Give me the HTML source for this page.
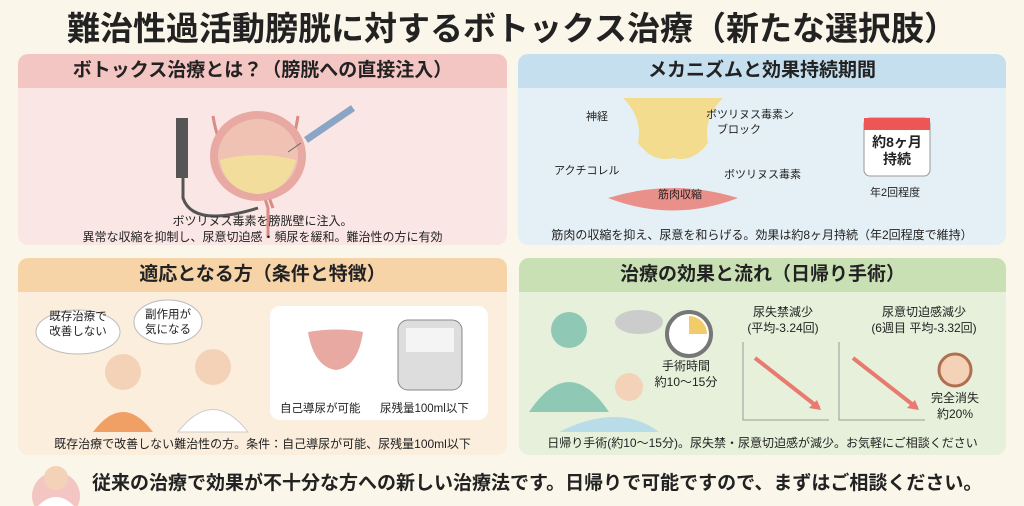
<!DOCTYPE html>
<html><head><meta charset="utf-8"><style>
*{margin:0;padding:0;box-sizing:border-box}
body{width:1024px;height:506px;background:#fbf6ea;font-family:"Liberation Sans","Noto Sans CJK JP",sans-serif;color:#222;position:relative;overflow:hidden}
.t{position:absolute;white-space:nowrap}
.p{position:absolute;border-radius:10px;overflow:hidden}
.h{height:34px;font-size:19px;font-weight:bold;text-align:center;line-height:34px}
.c{text-align:center}
</style></head><body>
<div class="t" style="left:0;width:1024px;top:2px;text-align:center;font-size:33px;font-weight:bold">難治性過活動膀胱に対するボトックス治療（新たな選択肢）</div>

<div class="p" style="left:18px;top:54px;width:489px;height:191px;background:#fae6e4">
<div class="h" style="background:#f4c6c3">ボトックス治療とは？（膀胱への直接注入）</div>
<svg width="489" height="157" style="position:absolute;top:34px;left:0">
<path d="M195 28 Q200 60 215 70 Q240 85 250 120 L250 150 M280 28 Q275 60 265 70 Q240 85 255 120" stroke="#d98c85" stroke-width="3" fill="none"/>
<ellipse cx="240" cy="68" rx="48" ry="45" fill="#e8a9a2"/>
<ellipse cx="240" cy="68" rx="40" ry="37" fill="#f0c2b4"/>
<path d="M202 72 Q240 62 278 72 Q270 104 240 106 Q208 104 202 72Z" fill="#f2dd9c"/>
<path d="M288 52 L335 20" stroke="#8aa6c4" stroke-width="7"/><path d="M283 55 L270 64" stroke="#666"/>
<path d="M165 35 L165 110 Q175 140 240 120" stroke="#555" stroke-width="3" fill="none"/>
<rect x="158" y="30" width="12" height="60" fill="#555"/>
</svg>
<div class="t c" style="left:0;width:489px;top:158px;font-size:12px">ボツリヌス毒素を膀胱壁に注入。</div>
<div class="t c" style="left:0;width:489px;top:174px;font-size:12px">異常な収縮を抑制し、尿意切迫感・頻尿を緩和。難治性の方に有効</div>
</div>

<div class="p" style="left:518px;top:54px;width:488px;height:191px;background:#e5f0f6">
<div class="h" style="background:#c5dfee">メカニズムと効果持続期間</div>
<svg width="488" height="157" style="position:absolute;top:34px;left:0">
<path d="M105 10 L205 10 Q185 30 190 55 Q175 75 155 70 Q135 75 120 55 Q125 30 105 10Z" fill="#f3dc8e"/>
<path d="M90 110 Q155 90 220 110 Q155 135 90 110Z" fill="#e9908a"/>
<rect x="346" y="30" width="66" height="58" rx="6" fill="#fff" stroke="#999"/>
<rect x="346" y="30" width="66" height="12" fill="#e55"/>
</svg>
<div class="t" style="left:68px;top:54px;font-size:11px">神経</div>
<div class="t" style="left:188px;top:54px;font-size:11px;line-height:15px">ボツリヌス毒素ン<br>　ブロック</div>
<div class="t" style="left:36px;top:108px;font-size:11px">アクチコレル</div>
<div class="t" style="left:206px;top:112px;font-size:11px">ボツリヌス毒素</div>
<div class="t" style="left:140px;top:132px;font-size:11px">筋肉収縮</div>
<div class="t c" style="left:346px;top:80px;width:66px;font-size:14px;font-weight:bold;line-height:17px">約8ヶ月<br>持続</div>
<div class="t" style="left:352px;top:130px;font-size:11px">年2回程度</div>
<div class="t c" style="left:0;width:488px;top:172px;font-size:12px">筋肉の収縮を抑え、尿意を和らげる。効果は約8ヶ月持続（年2回程度で維持）</div>
</div>

<div class="p" style="left:18px;top:258px;width:489px;height:197px;background:#fbeedd">
<div class="h" style="background:#f7d4a8">適応となる方（条件と特徴）</div>
<svg width="489" height="163" style="position:absolute;top:34px;left:0">
<circle cx="105" cy="80" r="18" fill="#f3d2b8"/><path d="M75 140 Q105 100 135 140Z" fill="#f0a064"/>
<circle cx="195" cy="75" r="18" fill="#f3d2b8"/><path d="M160 140 Q195 95 230 140Z" fill="#fff" stroke="#ccc"/>
<ellipse cx="60" cy="40" rx="42" ry="22" fill="#fff" stroke="#bbb"/>
<ellipse cx="150" cy="30" rx="34" ry="22" fill="#fff" stroke="#bbb"/>
<rect x="252" y="14" width="218" height="114" rx="10" fill="#fff"/>
<path d="M290 40 Q320 35 345 40 Q340 75 318 78 Q296 75 290 40Z" fill="#e8a9a2"/>
<rect x="380" y="28" width="64" height="70" rx="10" fill="#ddd" stroke="#888"/>
<rect x="388" y="36" width="48" height="24" fill="#f4f4f4"/>
</svg>
<div class="t c" style="left:18px;top:52px;width:84px;font-size:11.5px;line-height:15px">既存治療で<br>改善しない</div>
<div class="t c" style="left:118px;top:50px;width:64px;font-size:11.5px;line-height:15px">副作用が<br>気になる</div>
<div class="t" style="left:262px;top:142px;font-size:11.5px">自己導尿が可能</div>
<div class="t" style="left:362px;top:142px;font-size:11.5px">尿残量100ml以下</div>
<div class="t c" style="left:0;width:489px;top:177px;font-size:12px">既存治療で改善しない難治性の方。条件：自己導尿が可能、尿残量100ml以下</div>
</div>

<div class="p" style="left:519px;top:258px;width:487px;height:197px;background:#e6f0da">
<div class="h" style="background:#c9e0b4">治療の効果と流れ（日帰り手術）</div>
<svg width="487" height="163" style="position:absolute;top:34px;left:0">
<circle cx="50" cy="38" r="18" fill="#8fc9b6"/><path d="M10 120 Q50 60 90 120Z" fill="#8fc9b6"/>
<path d="M40 140 Q100 110 140 140Z" fill="#b8dce8"/><circle cx="110" cy="95" r="14" fill="#f3d2b8"/>
<ellipse cx="120" cy="30" rx="24" ry="12" fill="#ccc"/>
<circle cx="170" cy="42" r="22" fill="#fff" stroke="#777" stroke-width="4"/>
<path d="M170 42 L170 24 A18 18 0 0 1 188 42Z" fill="#f2cc6a"/>
<path d="M224 50 L224 128 L310 128 M320 50 L320 128 L406 128" stroke="#999" fill="none"/>
<path d="M236 66 L300 116 M334 66 L398 116" stroke="#e87a70" stroke-width="4"/>
<path d="M302 118 l-12 -2 l8 -8Z M400 118 l-12 -2 l8 -8Z" fill="#e87a70"/>
<circle cx="436" cy="78" r="16" fill="#f3d2b8" stroke="#b07050" stroke-width="3"/>
</svg>
<div class="t c" style="left:132px;top:100px;width:70px;font-size:12px;line-height:16px">手術時間<br>約10〜15分</div>
<div class="t c" style="left:214px;top:46px;width:100px;font-size:12px;line-height:16px">尿失禁減少<br>(平均-3.24回)</div>
<div class="t c" style="left:340px;top:46px;width:130px;font-size:12px;line-height:16px">尿意切迫感減少<br>(6週目 平均-3.32回)</div>
<div class="t c" style="left:404px;top:132px;width:64px;font-size:12px;line-height:16px">完全消失<br>約20%</div>
<div class="t c" style="left:0;width:487px;top:176px;font-size:12px">日帰り手術(約10〜15分)。尿失禁・尿意切迫感が減少。お気軽にご相談ください</div>
</div>

<svg width="56" height="46" style="position:absolute;left:28px;top:460px"><circle cx="28" cy="36" r="24" fill="#f4c6c3"/><circle cx="28" cy="18" r="12" fill="#f3d2b8"/><path d="M10 46 Q28 28 46 46Z" fill="#fff"/></svg>
<div class="t" style="left:92px;top:468px;font-size:19px;font-weight:bold">従来の治療で効果が不十分な方への新しい治療法です。日帰りで可能ですので、まずはご相談ください。</div>
</body></html>
